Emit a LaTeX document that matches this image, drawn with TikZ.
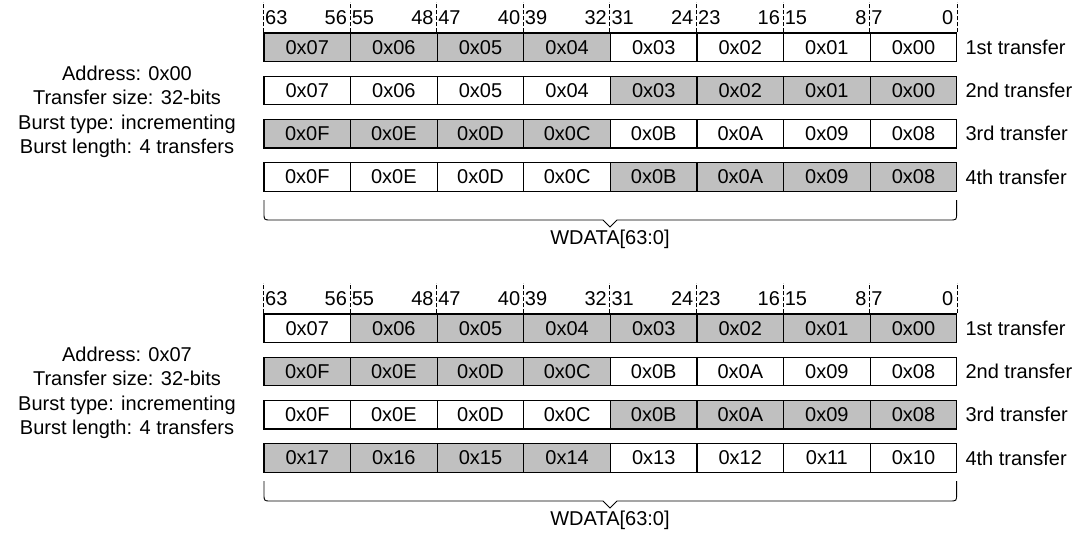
\documentclass[tikz,border=0pt]{standalone}
\usepackage{fontspec}
\setmainfont{Liberation Sans}
\usetikzlibrary{positioning}
\definecolor{lanegray}{RGB}{192,192,192}

% one row of byte lanes: #1 row name, #2 y centre, #3 byte/shade list, #4 transfer label
\newcommand{\lanerow}[4]{%
  \foreach \byte/\sh [count=\col from 0] in {#3} {%
    \ifnum\sh=1 \def\lanefill{lanegray}\else\def\lanefill{white}\fi
    \node[lane,fill=\lanefill] (#1-\col) at ({264+86.6*\col+43.3},#2) {\byte};
  }
  \node[xfer,right=8pt of #1-7] (#1-x) {#4};
}

\begin{document}
\begin{tikzpicture}[
    x=1pt,y=-1pt,
    font=\fontsize{20}{24.5}\selectfont,
    lane/.style={draw,line width=1.1pt,minimum width=86.6pt,minimum height=28.6pt,inner sep=0pt},
    xfer/.style={inner sep=0pt},
    tick/.style={dash pattern=on 4pt off 2pt,line width=1pt},
    bitno/.style={inner sep=0pt},
    brace/.style={line width=0.9pt},
]
\useasboundingbox (0,0) rectangle (1084,536);

% === Top: address 0x00 ===
\begin{scope}[shift={(0,0)}]
    \node[align=center] (a-info) at (127,112) {Address: 0x00\\Transfer size: 32-bits\\Burst type: incrementing\\Burst length: 4 transfers};
    \lanerow{a1}{47.3}{0x07/1,0x06/1,0x05/1,0x04/1,0x03/0,0x02/0,0x01/0,0x00/0}{1st transfer}
    \lanerow{a2}{90.5}{0x07/0,0x06/0,0x05/0,0x04/0,0x03/1,0x02/1,0x01/1,0x00/1}{2nd transfer}
    \lanerow{a3}{133.7}{0x0F/1,0x0E/1,0x0D/1,0x0C/1,0x0B/0,0x0A/0,0x09/0,0x08/0}{3rd transfer}
    \lanerow{a4}{176.9}{0x0F/0,0x0E/0,0x0D/0,0x0C/0,0x0B/1,0x0A/1,0x09/1,0x08/1}{4th transfer}
    \foreach \col [evaluate=\col as \hi using int(63-8*\col),
                   evaluate=\col as \lo using int(56-8*\col)] in {0,...,7} {
        \draw[tick] (a1-\col.north west) -- ++(0,-30);
        \node[bitno,anchor=west] (a-hi\col) at ([xshift=1.5pt,yshift=15pt]a1-\col.north west) {\hi};
        \node[bitno,anchor=east] (a-lo\col) at ([xshift=-4pt,yshift=15pt]a1-\col.north east) {\lo};
    }
    \draw[tick] (a1-7.north east) -- ++(0,-30);
    \draw[brace] (264,200) -- (264,213) .. controls (264,220) .. (271,220) -- (603,220)
        -- (610,227) coordinate (a-tip) -- (617,220) -- (949.6,220)
        .. controls (956.6,220) .. (956.6,213) -- (956.6,200);
    \node[inner sep=0pt,below=3pt of a-tip] (a-bus) {WDATA[63:0]};
\end{scope}

% === Bottom: address 0x07 ===
\begin{scope}[shift={(0,281)}]
    \node[align=center] (b-info) at (127,112) {Address: 0x07\\Transfer size: 32-bits\\Burst type: incrementing\\Burst length: 4 transfers};
    \lanerow{b1}{47.3}{0x07/0,0x06/1,0x05/1,0x04/1,0x03/1,0x02/1,0x01/1,0x00/1}{1st transfer}
    \lanerow{b2}{90.5}{0x0F/1,0x0E/1,0x0D/1,0x0C/1,0x0B/0,0x0A/0,0x09/0,0x08/0}{2nd transfer}
    \lanerow{b3}{133.7}{0x0F/0,0x0E/0,0x0D/0,0x0C/0,0x0B/1,0x0A/1,0x09/1,0x08/1}{3rd transfer}
    \lanerow{b4}{176.9}{0x17/1,0x16/1,0x15/1,0x14/1,0x13/0,0x12/0,0x11/0,0x10/0}{4th transfer}
    \foreach \col [evaluate=\col as \hi using int(63-8*\col),
                   evaluate=\col as \lo using int(56-8*\col)] in {0,...,7} {
        \draw[tick] (b1-\col.north west) -- ++(0,-30);
        \node[bitno,anchor=west] (b-hi\col) at ([xshift=1.5pt,yshift=15pt]b1-\col.north west) {\hi};
        \node[bitno,anchor=east] (b-lo\col) at ([xshift=-4pt,yshift=15pt]b1-\col.north east) {\lo};
    }
    \draw[tick] (b1-7.north east) -- ++(0,-30);
    \draw[brace] (264,200) -- (264,213) .. controls (264,220) .. (271,220) -- (603,220)
        -- (610,227) coordinate (b-tip) -- (617,220) -- (949.6,220)
        .. controls (956.6,220) .. (956.6,213) -- (956.6,200);
    \node[inner sep=0pt,below=3pt of b-tip] (b-bus) {WDATA[63:0]};
\end{scope}
\end{tikzpicture}
\end{document}
